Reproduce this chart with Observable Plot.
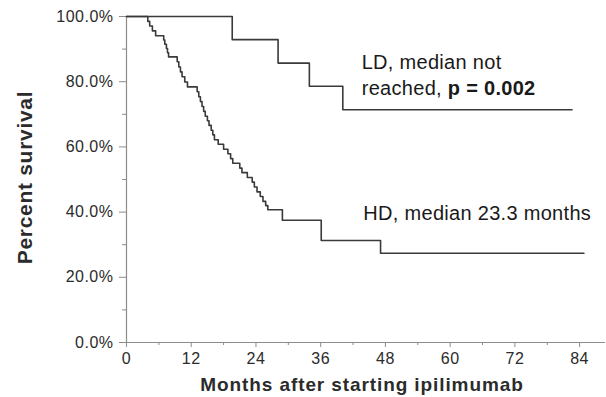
<!DOCTYPE html>
<html>
<head>
<meta charset="utf-8">
<script src="https://cdn.jsdelivr.net/npm/d3@7"></script>
<script src="https://cdn.jsdelivr.net/npm/@observablehq/plot@0.6"></script>
<style>
  html, body { margin: 0; padding: 0; background: #fff; }
  #chart svg { display: block; }
  .ticklbl text { letter-spacing: 0.5px; }
  .xtitle text { letter-spacing: 0.9px; }
  .ytitle text { letter-spacing: 0.7px; }
  .note text { letter-spacing: 0.3px; }
</style>
</head>
<body>
<div id="chart"></div>
<script>
// Kaplan–Meier survival curves (months after starting ipilimumab)
const ldMonths = [0, 19.6, 28.1, 33.9, 40.1, 82.6];
const ldSurvival = [1.0, 0.929, 0.857, 0.786, 0.714, 0.714];

const hdMonths = [0,
  3.95, 4.3, 4.8, 5.4,
  6.9, 7.1, 7.4, 7.6, 7.8,
  9.4, 9.7, 10.0, 10.3, 10.8, 11.3,
  13.1, 13.4, 13.7, 14.0, 14.3, 14.6, 15.0,
  15.3, 15.7, 16.0, 16.3, 17.0, 18.0, 18.8, 19.3, 19.7, 21.0, 21.4, 22.4, 23.3, 23.7, 24.2, 24.8, 25.3, 25.8, 26.2,
  28.9, 36.1, 47.1, 84.8];
const hdSurvival = [1.0,
  0.985, 0.971, 0.956, 0.941,
  0.928, 0.915, 0.902, 0.889, 0.876,
  0.861, 0.845, 0.830, 0.815, 0.799, 0.784,
  0.769, 0.754, 0.739, 0.724, 0.709, 0.694, 0.680,
  0.666, 0.651, 0.637, 0.622, 0.608, 0.593, 0.579, 0.564, 0.550, 0.535, 0.521, 0.506, 0.492, 0.477, 0.462, 0.448, 0.433, 0.420, 0.407,
  0.375, 0.313, 0.274, 0.274];

const xTicks = [0, 12, 24, 36, 48, 60, 72, 84];
const xMinorTicks = [6, 18, 30, 42, 54, 66, 78];
const yTicks = [0, 0.2, 0.4, 0.6, 0.8, 1.0];
const yMinorTicks = [0.1, 0.3, 0.5, 0.7, 0.9];

const ldLabel1 = "LD, median not";
const ldLabel2 = "reached, p = 0.002";
const hdLabel = "HD, median 23.3 months";
const xTitle = "Months after starting ipilimumab";
const yTitle = "Percent survival";

const ld = ldMonths.map((m, i) => ({month: m, survival: ldSurvival[i]}));
const hd = hdMonths.map((m, i) => ({month: m, survival: hdSurvival[i]}));

const font = "'Liberation Sans', Arial, Helvetica, sans-serif";
const axisColor = "#8c8c8c";
const textColor = "#2b2b2b";

const chart = Plot.plot({
  width: 606,
  height: 397,
  marginLeft: 126,
  marginRight: 1,
  marginTop: 16,
  marginBottom: 55,
  style: {fontFamily: font, background: "#fff", color: textColor},
  x: {domain: [0, 88.8]},
  y: {domain: [0, 1]},
  marks: [
    Plot.ruleX([0], {stroke: axisColor, strokeWidth: 1.2}),
    Plot.ruleY([0], {stroke: axisColor, strokeWidth: 1.2}),
    Plot.axisY({ticks: yTicks, tickSize: 7, tickPadding: 6, stroke: axisColor,
      tickFormat: d => (d * 100).toFixed(1) + "%", fontSize: 16, fill: textColor, label: null, className: "ticklbl"}),
    Plot.axisY({ticks: yMinorTicks, tickSize: 4, text: null, stroke: axisColor, label: null}),
    Plot.axisX({ticks: xTicks, tickSize: 5, tickPadding: 5, stroke: axisColor,
      fontSize: 16, fill: textColor, label: null, className: "ticklbl"}),
    Plot.axisX({ticks: xMinorTicks, tickSize: 3, text: null, stroke: axisColor, label: null}),
    Plot.line(hd, {x: "month", y: "survival", curve: "step-after", stroke: "#3a3a3a", strokeWidth: 1.6}),
    Plot.line(ld, {x: "month", y: "survival", curve: "step-after", stroke: "#3a3a3a", strokeWidth: 1.6}),
    Plot.text([ldLabel1], {x: 43.6, y: 0.86, text: d => d, textAnchor: "start", fontSize: 20, fill: "#1a1a1a", className: "note"}),
    Plot.text([ldLabel2], {x: 43.6, y: 0.778, text: d => d, textAnchor: "start", fontSize: 20, fill: "#1a1a1a", className: "note"}),
    Plot.text([hdLabel], {x: 43.9, y: 0.394, text: d => d, textAnchor: "start", fontSize: 20, fill: "#1a1a1a", className: "note"}),
    Plot.text([yTitle], {frameAnchor: "left", textAnchor: "middle", lineAnchor: "middle", rotate: -90, dx: -101, dy: -2,
      fontSize: 21, fontWeight: "bold", fill: textColor, className: "ytitle"}),
    Plot.text([xTitle], {frameAnchor: "bottom", textAnchor: "middle", lineAnchor: "middle", dy: 42, dx: -4,
      fontSize: 19, fontWeight: "bold", fill: textColor, className: "xtitle"})
  ]
});

document.getElementById("chart").appendChild(chart);

// Make "p = 0.002" bold while keeping it as real text
d3.select(chart).selectAll("text").each(function() {
  const t = d3.select(this);
  if (t.text() === ldLabel2) {
    t.text(null);
    t.append("tspan").text("reached, ");
    t.append("tspan").attr("font-weight", "bold").text("p = 0.002");
  }
});
</script>
</body>
</html>
